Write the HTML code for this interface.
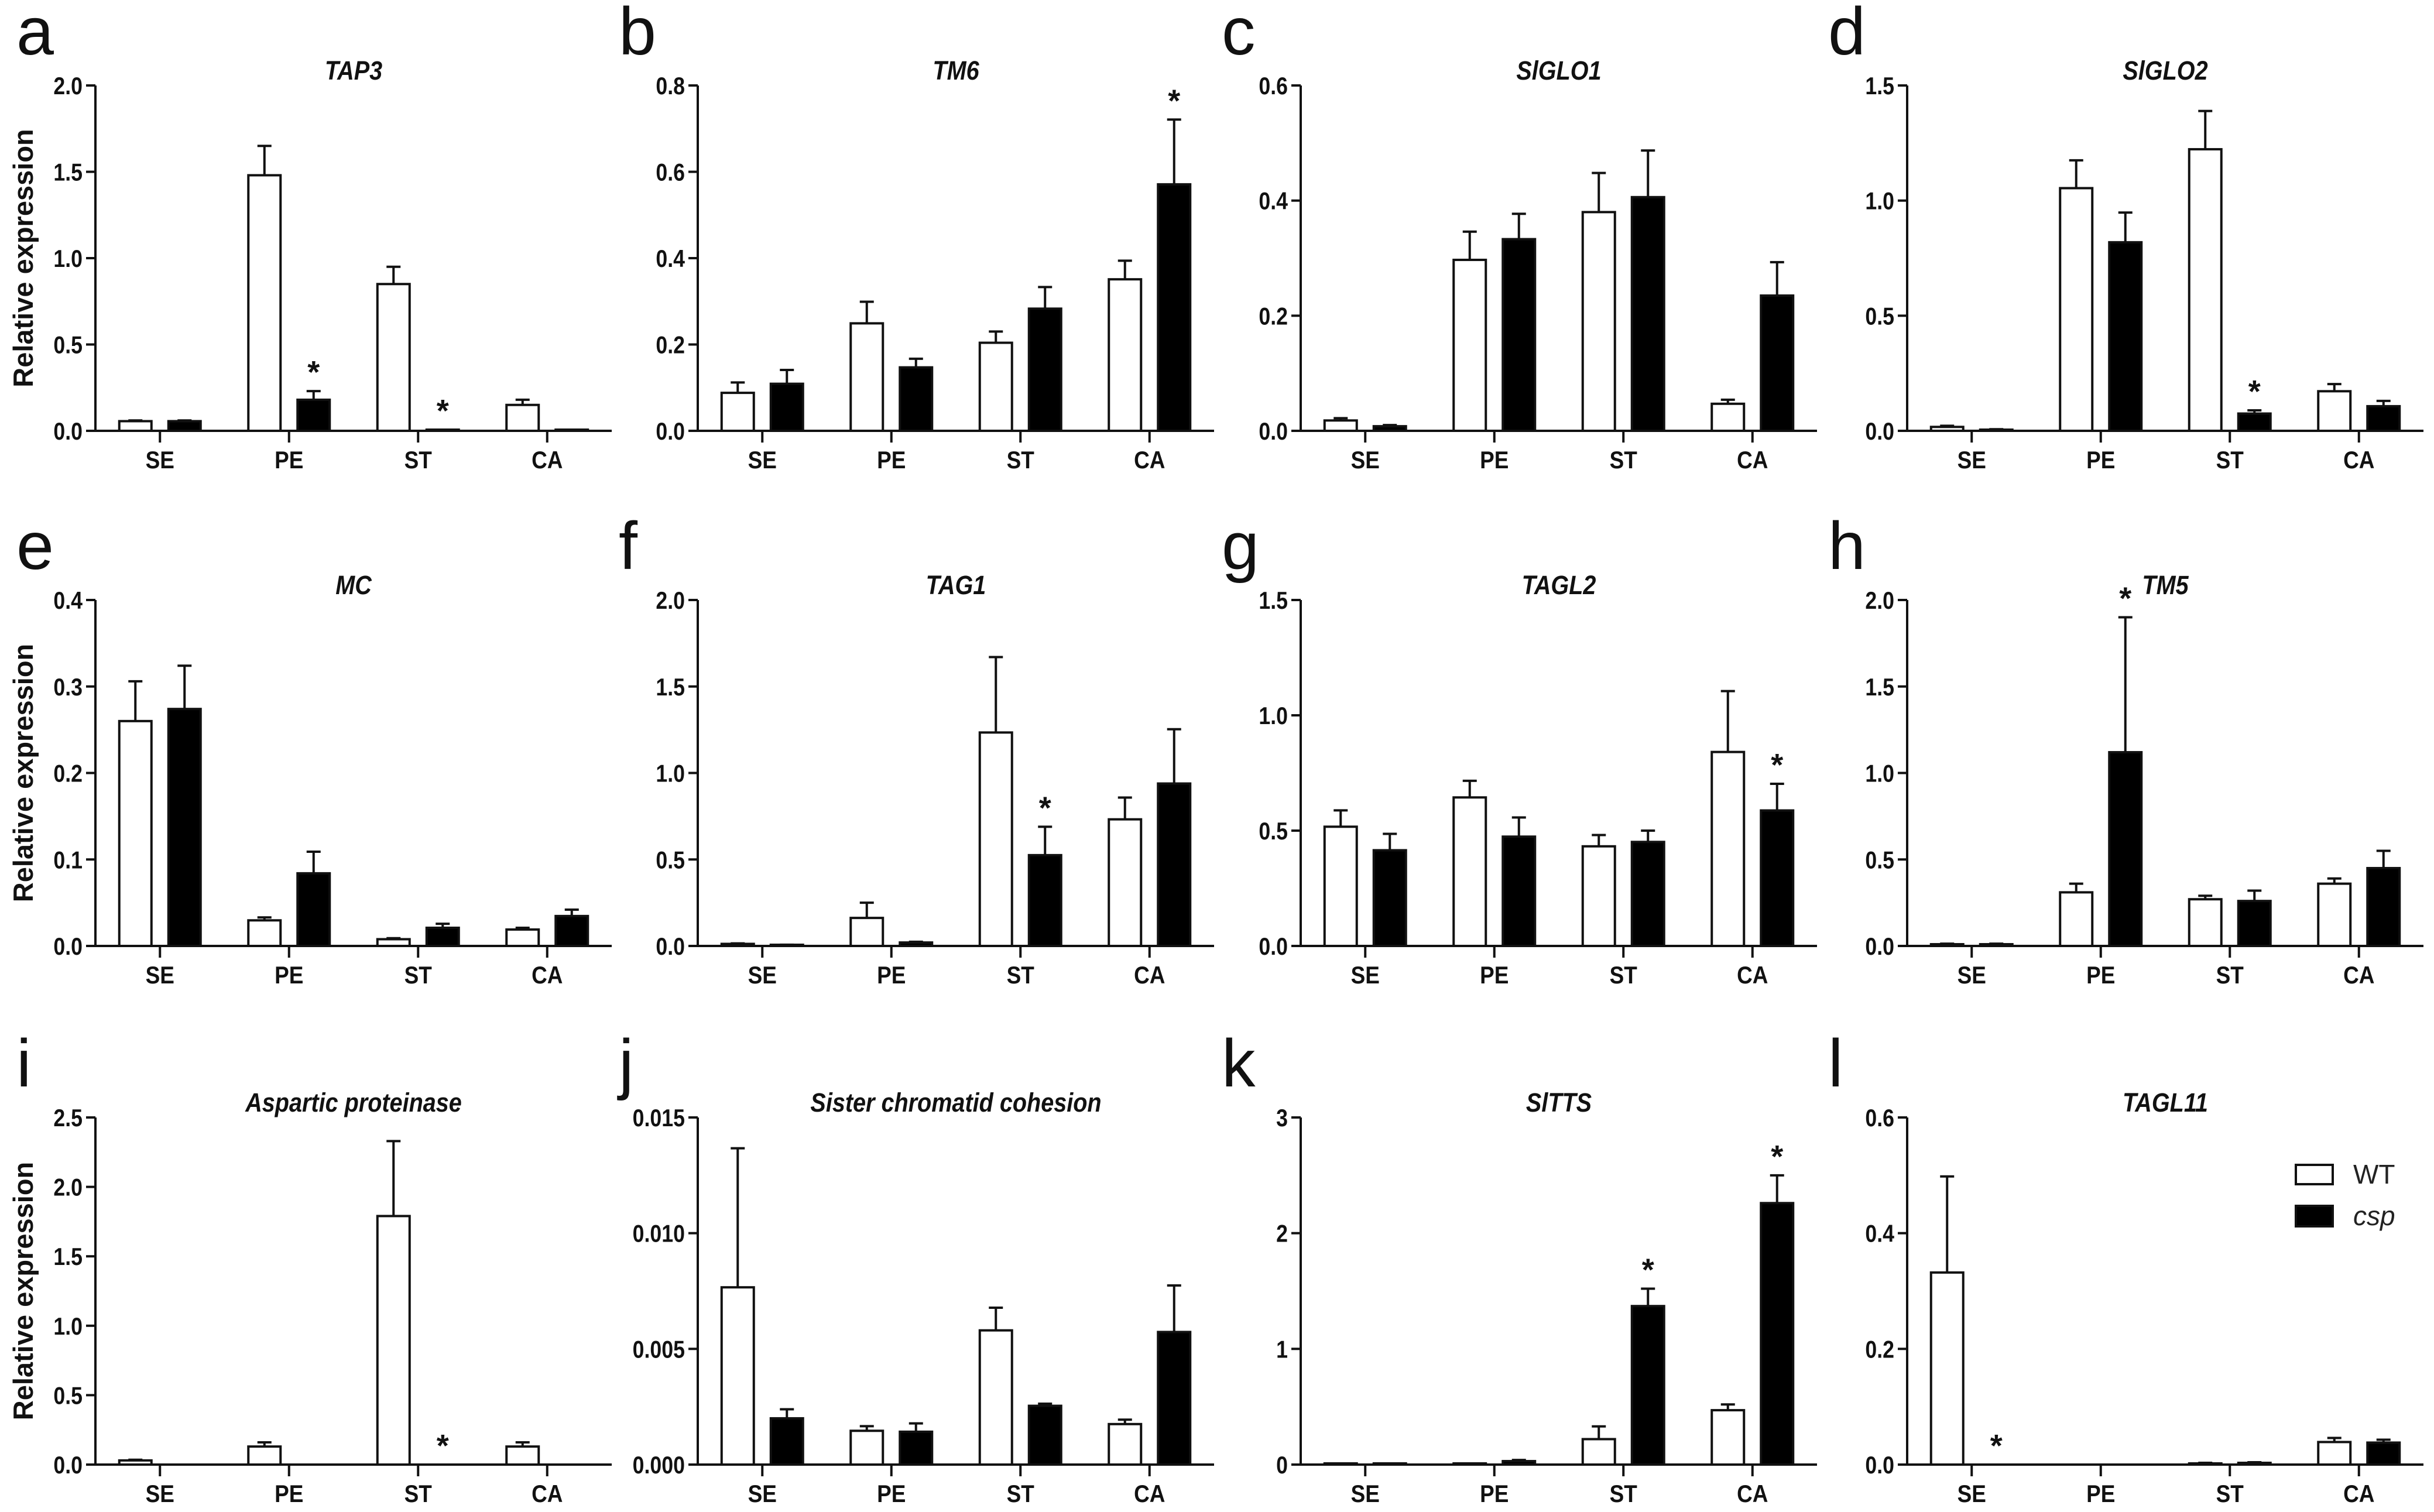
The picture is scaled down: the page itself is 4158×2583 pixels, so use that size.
<!DOCTYPE html>
<html><head><meta charset="utf-8"><style>
html,body{margin:0;padding:0;background:#fff}
svg{display:block}
text{font-family:"Liberation Sans",Arial,sans-serif}
</style></head><body>
<svg id="fig" xmlns="http://www.w3.org/2000/svg" width="4158" height="2583" viewBox="0 0 4158 2583">
<rect width="4158" height="2583" fill="#fff"/>
</svg>
<script>
const categories = ["SE","PE","ST","CA"];
const panelLetters = ["a","b","c","d","e","f","g","h","i","j","k","l"];
const panelTitles = ["TAP3","TM6","SlGLO1","SlGLO2","MC","TAG1","TAGL2","TM5","Aspartic proteinase","Sister chromatid cohesion","SlTTS","TAGL11"];
const yMax = [2.0,0.8,0.6,1.5,0.4,2.0,1.5,2.0,2.5,0.015,3,0.6];
const yStep = [0.5,0.2,0.2,0.5,0.1,0.5,0.5,0.5,0.5,0.005,1,0.2];
const yDecimals = [1,1,1,1,1,1,1,1,1,3,0,1];
const wtValues = [
 [0.056,1.48,0.85,0.15],
 [0.088,0.249,0.204,0.351],
 [0.018,0.297,0.38,0.047],
 [0.017,1.054,1.223,0.172],
 [0.26,0.0296,0.0078,0.019],
 [0.012,0.162,1.234,0.732],
 [0.517,0.644,0.432,0.841],
 [0.01,0.31,0.27,0.36],
 [0.03,0.13,1.79,0.13],
 [0.00766,0.00146,0.0058,0.00175],
 [0.005,0.005,0.22,0.47],
 [0.332,0,0.002,0.039]
];
const wtErrors = [
 [0.004,0.17,0.10,0.03],
 [0.024,0.05,0.026,0.043],
 [0.004,0.049,0.068,0.007],
 [0.005,0.121,0.166,0.031],
 [0.046,0.0034,0.0012,0.002],
 [0.003,0.088,0.436,0.126],
 [0.071,0.072,0.049,0.264],
 [0.003,0.05,0.02,0.03],
 [0.005,0.03,0.54,0.03],
 [0.00601,0.0002,0.00098,0.00019],
 [0.002,0.002,0.11,0.05],
 [0.166,0,0.001,0.007]
];
const cspValues = [
 [0.056,0.18,0.005,0.003],
 [0.109,0.147,0.283,0.571],
 [0.008,0.333,0.406,0.235],
 [0.005,0.819,0.075,0.107],
 [0.274,0.084,0.021,0.0346],
 [0.005,0.02,0.525,0.939],
 [0.415,0.474,0.451,0.5875],
 [0.01,1.12,0.26,0.45],
 [0,0,0,0],
 [0.002,0.00142,0.00254,0.00573],
 [0.005,0.03,1.37,2.26],
 [0,0,0.003,0.038]
];
const cspErrors = [
 [0.004,0.05,0.001,0.001],
 [0.032,0.02,0.05,0.15],
 [0.002,0.044,0.081,0.058],
 [0.002,0.129,0.014,0.023],
 [0.05,0.025,0.0046,0.0074],
 [0.002,0.004,0.164,0.314],
 [0.071,0.083,0.049,0.1155],
 [0.003,0.78,0.06,0.10],
 [0,0,0,0],
 [0.00039,0.00036,0.00009,0.00201],
 [0.002,0.01,0.15,0.24],
 [0,0,0.001,0.005]
];
const cspStars = [[1,2],[3],[],[2],[],[2],[3],[1],[2],[],[2,3],[0]];

const NS="http://www.w3.org/2000/svg";
const svg=document.getElementById('fig');
function mk(tag,attrs,parent){const e=document.createElementNS(NS,tag);for(const k in attrs)e.setAttribute(k,attrs[k]);(parent||svg).appendChild(e);return e;}
function txt(x,y,sx,attrs,parent){attrs.x=0;attrs.y=0;attrs.transform=`translate(${x},${y}) scale(${sx},1)`;return mk('text',attrs,parent);}
const colX=[163,1192,2222,3258];
const rowTop=[146,1025,1909];
const rowBase=[736,1616,2502];
const AXW=882, BW=55, OFF=42, SW=4;

for(let p=0;p<12;p++){
  const r=Math.floor(p/4), c=p%4;
  const x0=colX[c], top=rowTop[r], base=rowBase[r];
  const g=mk('g',{});
  
  
  const yS=v=>base-(v/yMax[p])*(base-top);
  const xC=i=>x0+AXW/8+i*AXW/4;
  const L=mk('text',{x:x0-135,y:top-53,'font-size':115,fill:'#111'},g);
  L.textContent=panelLetters[p];
  
  
  const T=txt(x0+AXW/2,top-10,0.88,{'font-size':45,'font-weight':'bold','font-style':'italic','text-anchor':'middle',fill:'#111'},g);
  T.textContent=panelTitles[p];
  
  
  const n=Math.round(yMax[p]/yStep[p]);
  for(let k=0;k<=n;k++){
    const v=k*yStep[p], y=yS(v);
    const tk=mk('line',{x1:x0-16,x2:x0,y1:y,y2:y,stroke:'#111','stroke-width':SW},g);
    
    
    const tl=txt(x0-22,y+15,0.85,{'font-size':42,'font-weight':'bold','text-anchor':'end',fill:'#111'},g);
    tl.textContent=v.toFixed(yDecimals[p]);
    
    
  }
  if(c===0){
    const yt=mk('text',{x:0,y:0,'font-size':47,'font-weight':'bold','text-anchor':'middle',fill:'#111',transform:`translate(56,${(top+base)/2}) rotate(-90)`},g);
    yt.textContent='Relative expression';
    
    
  }
  for(let i=0;i<4;i++){
    const cx=xC(i);
    [[wtValues,wtErrors,-OFF,'#fff','wt'],[cspValues,cspErrors,OFF,'#000','csp']].forEach(([V,E,o,fill,nm])=>{
      const v=V[p][i], e=E[p][i], bx=cx+o;
      if(e>0){
        const el=mk('line',{x1:bx,x2:bx,y1:yS(v),y2:yS(v+e),stroke:'#111','stroke-width':SW},g);
        
        
        const cap=mk('line',{x1:bx-12,x2:bx+12,y1:yS(v+e),y2:yS(v+e),stroke:'#111','stroke-width':SW},g);
        
        
      }
      if(v>0){
        const h=Math.max(base-yS(v),2);
        const b=mk('rect',{x:bx-BW/2,y:base-h,width:BW,height:h,fill:fill,stroke:'#111','stroke-width':SW},g);
        
        
      }
    });
    const xt=mk('line',{x1:cx,x2:cx,y1:base,y2:base+20,stroke:'#111','stroke-width':SW},g);
    
    
    const xl=txt(cx,base+64,0.88,{'font-size':42,'font-weight':'bold','text-anchor':'middle',fill:'#111'},g);
    xl.textContent=categories[i];
    
    
  }
  cspStars[p].forEach(i=>{
    const v=cspValues[p][i]+cspErrors[p][i];
    const s=mk('text',{x:xC(i)+OFF,y:yS(v)-14,'font-size':54,'font-weight':'bold','text-anchor':'middle',fill:'#111'},g);
    s.textContent='*';
    
    
  });
  const ya=mk('line',{x1:x0,x2:x0,y1:top,y2:base+2,stroke:'#111','stroke-width':SW},g);
  
  
  const xa=mk('line',{x1:x0-2,x2:x0+AXW,y1:base,y2:base,stroke:'#111','stroke-width':SW},g);
  
  
}
const lg=mk('g',{});


const b1=mk('rect',{x:3922,y:1990,width:63,height:33,fill:'#fff',stroke:'#111','stroke-width':4},lg);


const t1=mk('text',{x:4020,y:2022,'font-size':46,fill:'#222'},lg);
t1.textContent='WT';


const b2=mk('rect',{x:3922,y:2060,width:63,height:35,fill:'#000',stroke:'#111','stroke-width':4},lg);


const t2=mk('text',{x:4020,y:2093,'font-size':46,'font-style':'italic',fill:'#222'},lg);
t2.textContent='csp';


</script>
</body></html>
